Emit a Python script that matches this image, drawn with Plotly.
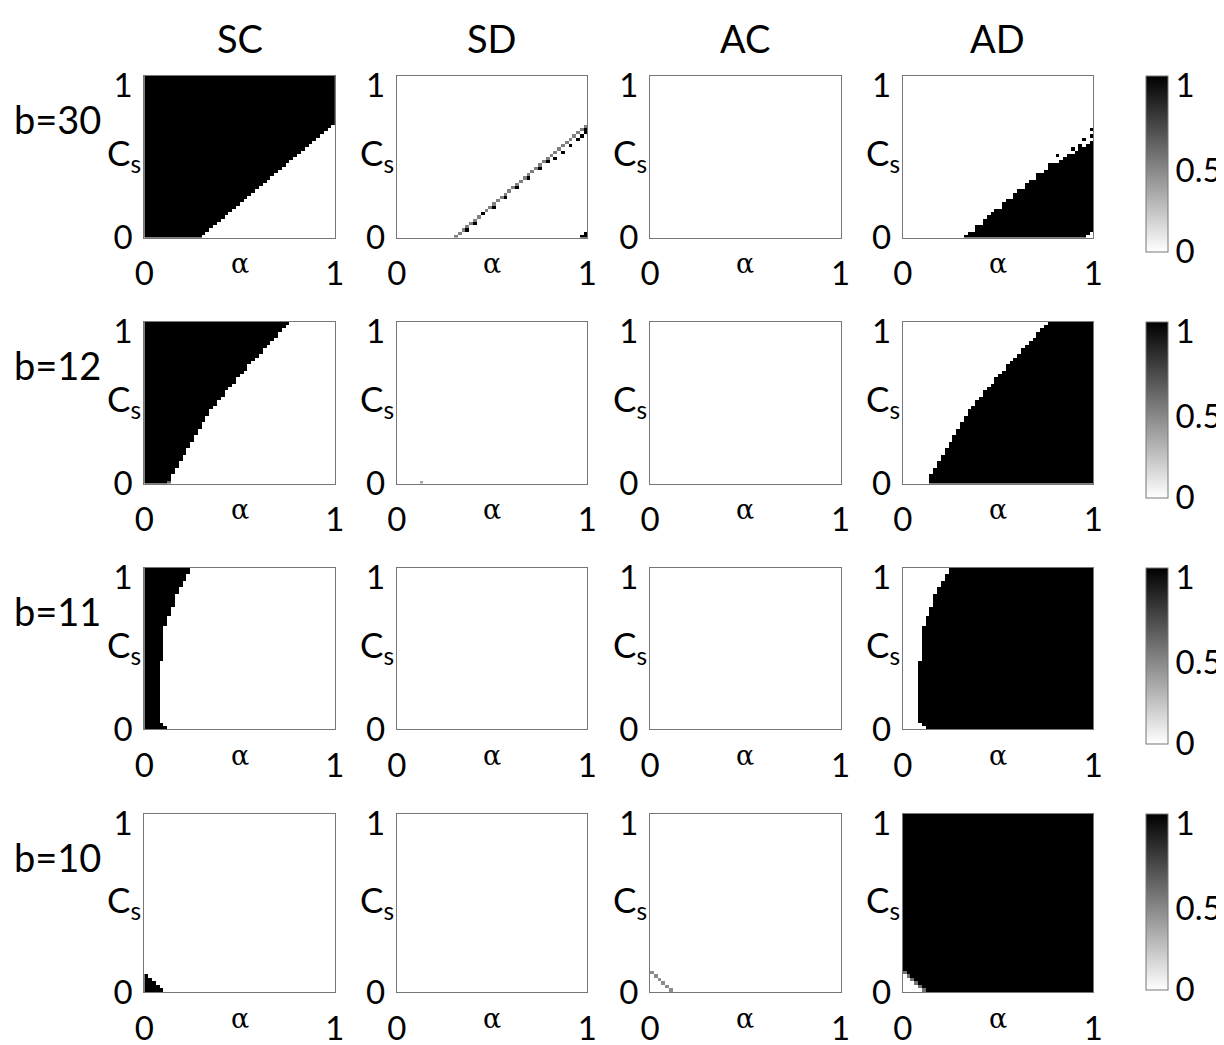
import numpy as np
import plotly.graph_objects as go

strategies = ["SC", "SD", "AC", "AD"]
b_values = [30, 12, 11, 10]
N = 50  # cells along alpha and along C_s

# Edges are column indices (0..50), one per C_s row, bottom to top.
# "left" panels are black left of the edge, "right" panels black from the edge on.
sc30_edge = [15, 16, 17, 18, 19, 20, 21, 22, 23, 24, 25, 26, 27, 28, 29, 30, 31, 32,
             33, 34, 35, 36, 37, 38, 39, 40, 41, 42, 43, 44, 45, 46, 47, 48, 49] + [50] * 15
sd30_line = [15, 16, 17, 18, 19, 20, 21, 22, 23, 24, 25, 26, 27, 28, 29, 30, 31, 32,
             33, 34, 35, 36, 37, 38, 39, 40, 41, 42, 43, 44, 45, 46, 47, 48, 49]
sd30_black = [(2, 18), (4, 20), (7, 22), (9, 25), (12, 28), (15, 31), (18, 34), (21, 37),
              (23, 39), (24, 41), (26, 43), (28, 45), (30, 47), (31, 48), (32, 49), (33, 49),
              (0, 48), (0, 49), (1, 49)]
ad30_edge = [16, 17, 18, 19, 20, 21, 22, 23, 24, 25, 26, 27, 28, 29, 30, 31, 32, 33,
             34, 35, 37, 38, 39, 41, 42, 43, 45, 46, 48, 49] + [50] * 20
ad30_holes = [(2, 18), (4, 20), (9, 25), (12, 28), (15, 31), (18, 34), (0, 48), (0, 49), (1, 49)]
ad30_dots = [(22, 38), (25, 40), (27, 44), (28, 46), (30, 47), (31, 49), (33, 49)]

sc12_edge = [6, 7, 7, 8, 8, 9, 9, 10, 10, 11, 11, 12, 12, 13, 13, 14, 14, 15, 15, 16,
             16, 17, 17, 18, 19, 19, 20, 21, 21, 22, 23, 24, 24, 25, 26, 27, 27, 28, 29, 30,
             31, 31, 32, 33, 34, 35, 35, 36, 37, 38]
ad12_edge = [7, 7, 7, 8, 8, 9, 9, 10, 10, 11, 11, 12, 12, 13, 13, 14, 14, 15, 15, 16,
             16, 17, 17, 18, 19, 19, 20, 21, 21, 22, 23, 24, 24, 25, 26, 27, 27, 28, 29, 30,
             31, 31, 32, 33, 34, 35, 35, 36, 37, 38]
sc12_partial = [(0, 6, 0.6)]
sd12_partial = [(0, 6, 0.35)]

sc11_edge = [6, 5] + [4] * 19 + [5] * 11 + [6] * 3 + [7] * 3 + [8] * 4 + [9] * 2 + [10] * 2 + [11] * 2 + [12] * 2
ad11_edge = [6, 5] + [4] * 19 + [5] * 11 + [6] * 3 + [7] * 3 + [8] * 4 + [9] * 2 + [10] * 2 + [11] * 2 + [12] * 2

sc10_edge = [5, 4, 3, 2, 1] + [0] * 45
ac10_partial = [(0, 5, 0.45), (1, 4, 0.45), (2, 3, 0.45), (3, 2, 0.45), (4, 1, 0.45), (5, 0, 0.45)]
ad10_edge = [5, 4, 3, 2, 1] + [0] * 45
ad10_partial = [(0, 5, 0.55), (1, 4, 0.55), (2, 3, 0.55), (3, 2, 0.55), (4, 1, 0.55), (5, 0, 0.55)]


def blank():
    return np.zeros((N, N))


def left_of(edge):
    z = blank()
    for j, e in enumerate(edge):
        z[j, :e] = 1
    return z


def right_of(edge):
    z = blank()
    for j, e in enumerate(edge):
        z[j, e:] = 1
    return z


def put(z, cells, v=None):
    for c in cells:
        z[c[0], c[1]] = c[2] if v is None else v
    return z


sd30 = blank()
for j, k in enumerate(sd30_line):
    sd30[j, k] = 0.5
put(sd30, sd30_black, 1)
ad30 = put(put(right_of(ad30_edge), ad30_holes, 0), ad30_dots, 1)

grids = [
    [left_of(sc30_edge), sd30, blank(), ad30],
    [put(left_of(sc12_edge), sc12_partial), put(blank(), sd12_partial), blank(), right_of(ad12_edge)],
    [left_of(sc11_edge), blank(), blank(), right_of(ad11_edge)],
    [left_of(sc10_edge), blank(), put(blank(), ac10_partial), put(right_of(ad10_edge), ad10_partial)],
]

W, H = 1224, 1045
OFF = 8  # the page puts the figure 8px in from the corner
col_left = [144.3, 396.7, 650.0, 902.7]
panel_w = 190.5
row_top = [76, 322, 568, 814]
row_bot = [237.5, 483.5, 729, 992]
cb_left, cb_w, cb_len = 1145.7, 21.6, 176
FONT = "Lato"
TICK = 33
grey = [[0, "#ffffff"], [1, "#000000"]]
frame = "#777777"
cells = (np.arange(N) + 0.5) / N


def px(x):
    return (x - OFF) / W


def py(y):
    return 1 - (y - OFF) / H


fig = go.Figure()
layout = {}
ann = []
shapes = []
n = 0
for r in range(4):
    ph = row_bot[r] - row_top[r]
    for c in range(4):
        n += 1
        xa = "x" if n == 1 else f"x{n}"
        ya = "y" if n == 1 else f"y{n}"
        tr = go.Heatmap(z=grids[r][c], x=cells, y=cells, zmin=0, zmax=1,
                        colorscale=grey, xaxis=xa, yaxis=ya, showscale=(c == 3),
                        hoverinfo="skip")
        if c == 3:
            tr.colorbar = dict(x=px(cb_left), xanchor="left", y=py(row_top[r]), yanchor="top",
                               xpad=0, ypad=0,
                               len=cb_len, lenmode="pixels", thickness=cb_w, thicknessmode="pixels",
                               outlinecolor=frame, outlinewidth=1,
                               tickvals=[0.005, 0.5 - 6 / cb_len, 1 - 9 / cb_len],
                               ticktext=["0", "0.5", "1"], ticks="",
                               tickfont=dict(family=FONT, size=TICK, color="black"))
            shapes.append(dict(type="line", xref="paper", yref="paper",
                               x0=px(cb_left + cb_w - 5), x1=px(cb_left + cb_w),
                               y0=py(row_top[r] + cb_len / 2), y1=py(row_top[r] + cb_len / 2),
                               line=dict(color=frame, width=1)))
        fig.add_trace(tr)
        axis_common = dict(range=[0, 1], showgrid=False, zeroline=False, showline=True,
                           mirror=True, linecolor=frame, linewidth=1, ticks="",
                           automargin=False,
                           tickfont=dict(family=FONT, size=TICK, color="black"))
        layout["xaxis" if n == 1 else f"xaxis{n}"] = dict(
            axis_common, domain=[px(col_left[c]), px(col_left[c] + panel_w)],
            tickvals=[0, 1], ticktext=["0", "1"],
            anchor=ya, ticklabelstandoff=7)
        layout["yaxis" if n == 1 else f"yaxis{n}"] = dict(
            axis_common, domain=[py(row_bot[r]), py(row_top[r])],
            tickvals=[0, 1 - 9.5 / ph], ticktext=["0", "1"],
            anchor=xa, ticklabelstandoff=4)
        mid_y = (row_top[r] + row_bot[r]) / 2
        ann.append(dict(text="C<sub>s</sub>", x=px(col_left[c] - 1), y=py(mid_y - 2),
                        xanchor="right", yanchor="middle", showarrow=False,
                        font=dict(family=FONT, size=35, color="black")))
        ann.append(dict(text="\u03b1", x=px(col_left[c] + panel_w / 2), y=py(row_bot[r] + 26),
                        xanchor="center", yanchor="middle", showarrow=False,
                        font=dict(family="DejaVu Serif", size=27, color="black")))

for c, s in enumerate(strategies):
    ann.append(dict(text=s, x=px(col_left[c] + panel_w / 2), y=py(38),
                    xanchor="center", yanchor="middle", showarrow=False,
                    font=dict(family=FONT, size=38, color="black")))
for r, b in enumerate(b_values):
    ann.append(dict(text=f"b={b}", x=px(12), y=py(row_top[r] + 43),
                    xanchor="left", yanchor="middle", showarrow=False,
                    font=dict(family=FONT, size=38, color="black")))
for a in ann:
    a["xref"] = "paper"
    a["yref"] = "paper"

layout.update(width=W, height=H,
              margin=dict(l=0, r=0, t=0, b=0, autoexpand=False),
              paper_bgcolor="white", plot_bgcolor="white", showlegend=False,
              annotations=ann, shapes=shapes)
fig.update_layout(**layout)
fig.write_html("out.html")
